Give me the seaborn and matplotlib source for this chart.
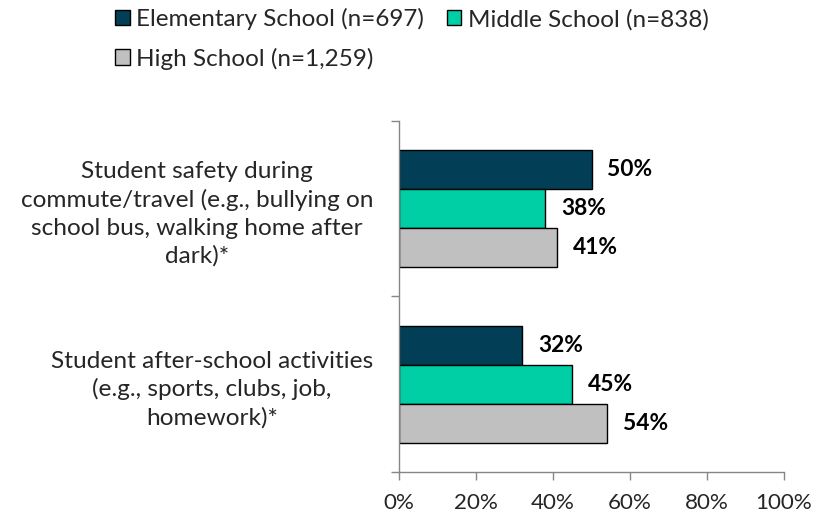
import matplotlib
matplotlib.use("Agg")
import matplotlib.pyplot as plt
import seaborn as sns
import pandas as pd
from matplotlib.patches import Patch

categories = [
    "Student safety during\ncommute/travel (e.g., bullying on\nschool bus, walking home after\ndark)*",
    "Student after-school activities\n(e.g., sports, clubs, job,\nhomework)*",
]
groups = ["Elementary School (n=697)", "Middle School (n=838)", "High School (n=1,259)"]
elementary = [50, 32]
middle = [38, 45]
high = [41, 54]
colors = ["#023E55", "#00CFA5", "#C0C0C0"]
xticks = [0, 20, 40, 60, 80, 100]

rows = []
for g, vals in zip(groups, [elementary, middle, high]):
    for c, v in zip(categories, vals):
        rows.append({"category": c, "group": g, "value": v})
df = pd.DataFrame(rows)

sns.set_style("white")
plt.rcParams["font.family"] = ["Lato", "DejaVu Sans"]

W, H = 817, 519
fig = plt.figure(figsize=(W / 100, H / 100), dpi=100)
renderer = fig.canvas.get_renderer()


def fitted_size(text, width_px, weight="normal"):
    """Font size at which `text` spans `width_px` pixels."""
    t = fig.text(0, 0, text, fontsize=10, fontweight=weight)
    w = t.get_window_extent(renderer).width
    t.remove()
    return 10 * width_px / w


fs_cat = fitted_size("Student after-school activities", 322)
fs_leg = fitted_size("Elementary School (n=697)", 288)
fs_val = fitted_size("50%", 45, "bold")
fs_tick = fitted_size("60%", 44)

ax = fig.add_axes([399 / W, 1 - 472 / H, (784 - 399) / W, (472 - 121) / H])

sns.barplot(data=df, y="category", x="value", hue="group", order=categories,
            hue_order=groups, palette=colors, orient="h", width=0.665,
            edgecolor="black", linewidth=1, saturation=1, legend=False, ax=ax)

ax.set_xlim(0, 100)
ax.set_ylim(1.5, -0.5)
ax.set_xlabel("")
ax.set_ylabel("")

for cont in ax.containers:
    for bar in cont:
        w = bar.get_width()
        ax.annotate(f"{w:.0f}%", (w, bar.get_y() + bar.get_height() / 2),
                    xytext=(11.5, 0), textcoords="offset points",
                    ha="left", va="center", fontsize=fs_val, fontweight="bold",
                    color="black")

ax.set_xticks(xticks)
ax.set_xticklabels([f"{t}%" for t in xticks], fontsize=fs_tick)
ax.tick_params(axis="x", length=5.5, width=1, color="#868686", pad=9.5, bottom=True)

ax.set_yticks([0, 1])
ax.set_yticklabels(categories, fontsize=fs_cat, ha="right",
                   multialignment="center", linespacing=1.37)
ax.set_yticks([-0.5, 0.5, 1.5], minor=True)
ax.tick_params(axis="y", which="major", length=0, pad=18.7)
ax.tick_params(axis="y", which="minor", length=5.5, width=1, color="#868686", left=True)

for s in ["top", "right"]:
    ax.spines[s].set_visible(False)
for s in ["left", "bottom"]:
    ax.spines[s].set_color("#868686")
    ax.spines[s].set_linewidth(1)

handles = [Patch(facecolor=c, edgecolor="black", linewidth=1) for c in colors]
order = [0, 2, 1]
fig.legend([handles[i] for i in order], [groups[i] for i in order], ncol=2,
           loc="upper left", bbox_to_anchor=(115 / W, 1 - 8 / H), frameon=False,
           fontsize=fs_leg, handlelength=0.6, handleheight=0.6, handletextpad=0.28,
           columnspacing=0.92, labelspacing=0.72, borderpad=0, borderaxespad=0)

fig.savefig("out.png", dpi=100)
